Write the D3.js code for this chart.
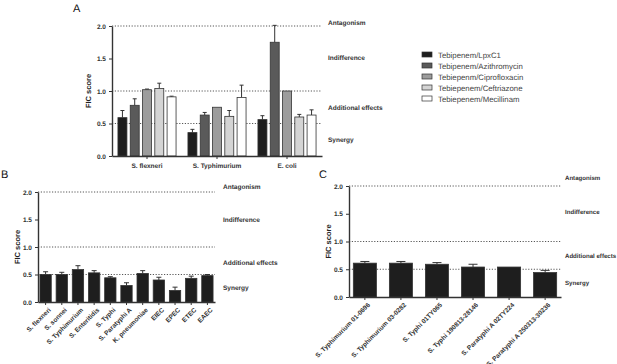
<!DOCTYPE html>
<html>
<head>
<meta charset="utf-8">
<script src="https://cdn.jsdelivr.net/npm/d3@7"></script>
<style>
  body { margin: 0; background: #fff; }
  svg { font-family: "Liberation Sans", Arial, sans-serif; -webkit-font-smoothing: antialiased; text-rendering: geometricPrecision; }
  .axis path, .axis line { stroke: #333; }
  .axis text { fill: #333; font-size: 6.5px; font-weight: bold; }
</style>
</head>
<body>
<svg id="chart"></svg>
<script>
// Panel A data
var groupsA = ["S. flexneri", "S. Typhimurium", "E. coli"];
var combosA = ["Tebipenem/LpxC1", "Tebipenem/Azithromycin", "Tebiepenm/Ciprofloxacin", "Tebiepenem/Ceftriazone", "Tebiepenem/Mecillinam"];
var lpxc1 = [0.59, 0.36, 0.56];
var lpxc1Err = [0.11, 0.05, 0.06];
var azithro = [0.78, 0.63, 1.75];
var azithroErr = [0.10, 0.04, 0.26];
var cipro = [1.02, 0.75, 1.00];
var ciproErr = [0.01, 0, 0];
var ceftri = [1.04, 0.61, 0.60];
var ceftriErr = [0.08, 0.09, 0.04];
var mecill = [0.91, 0.90, 0.63];
var mecillErr = [0.01, 0.19, 0.08];
var comboColors = ["#1e1e1e", "#5a5a5a", "#9c9c9c", "#d4d4d4", "#ffffff"];

// Panel B data
var strainsB = ["S. flexneri", "S. sonnei", "S. Typhimurium", "S. Enteritidis", "S. Typhi", "S. Paratyphi A", "K. pneumoniae", "EIEC", "EPEC", "ETEC", "EAEC"];
var valuesB = [0.50, 0.50, 0.59, 0.53, 0.44, 0.30, 0.52, 0.40, 0.21, 0.43, 0.48];
var errB = [0.05, 0.04, 0.07, 0.04, 0.02, 0.05, 0.05, 0.05, 0.06, 0.04, 0.02];

// Panel C data
var strainsC = ["S. Typhimurium 01-0696", "S. Typhimurium 03-0282", "S. Typhi 01TY065", "S. Typhi 190813-28146", "S. Paratyphi A 02TY224", "S. Paratyphi A 250313-30236"];
var valuesC = [0.61, 0.61, 0.59, 0.54, 0.54, 0.44];
var errC = [0.03, 0.03, 0.03, 0.05, 0, 0.04];

var yTicks = [0, 0.5, 1.0, 1.5, 2.0];
var dottedAt = [0.5, 1.0, 2.0];
var zones = ["Antagonism", "Indifference", "Additional effects", "Synergy"];

var svg = d3.select("#chart").attr("width", 617).attr("height", 364);

// draws axes, dotted guide lines, zone labels and the y title
function drawFrame(p) {
  var y = d3.scaleLinear().domain([0, 2]).range([p.bottom, p.top]);

  dottedAt.forEach(function (v) {
    svg.append("line")
      .attr("x1", p.left).attr("x2", p.right)
      .attr("y1", y(v)).attr("y2", y(v))
      .attr("stroke", "#444").attr("stroke-width", 0.9)
      .attr("stroke-dasharray", "1.2,1.6");
  });

  svg.append("g")
    .attr("class", "axis")
    .attr("transform", "translate(" + p.left + ",0)")
    .call(d3.axisLeft(y).tickValues(yTicks).tickFormat(d3.format(".1f")).tickSize(3).tickSizeOuter(0))
    .call(function (g) { g.select(".domain").attr("stroke-width", 1.4); });

  svg.append("text")
    .attr("transform", "translate(" + p.titleX + "," + ((p.top + p.bottom) / 2) + ") rotate(-90)")
    .attr("text-anchor", "middle")
    .attr("font-size", 7.5).attr("font-weight", "bold").attr("fill", "#222")
    .text("FIC  score");

  zones.forEach(function (z, i) {
    svg.append("text")
      .attr("x", p.labelX).attr("y", p.zoneY[i])
      .attr("font-size", p.zoneSize || 6.5).attr("font-weight", "bold").attr("fill", "#333")
      .text(z);
  });

  svg.append("text")
    .attr("x", p.letterX).attr("y", p.letterY)
    .attr("font-size", 11).attr("fill", "#111")
    .text(p.letter);

  return y;
}

function errorBars(xMid, yScale, val, err, capW) {
  if (err <= 0) return;
  var top = yScale(val + err);
  svg.append("line")
    .attr("x1", xMid).attr("x2", xMid)
    .attr("y1", yScale(val)).attr("y2", top)
    .attr("stroke", "#333").attr("stroke-width", 1);
  svg.append("line")
    .attr("x1", xMid - capW / 2).attr("x2", xMid + capW / 2)
    .attr("y1", top).attr("y2", top)
    .attr("stroke", "#333").attr("stroke-width", 1);
}

function rotatedLabels(g, size) {
  g.select(".domain").attr("stroke-width", 1.4);
  g.selectAll("text")
    .style("text-anchor", "end")
    .attr("font-size", size)
    .attr("dx", "-0.3em").attr("dy", "0.6em")
    .attr("transform", "rotate(-45)");
}

// ---------- Panel A ----------
var pA = { left: 112, right: 322, top: 26, bottom: 156, titleX: 91, labelX: 328,
  zoneY: [25, 60, 110, 142], letter: "A", letterX: 73, letterY: 12 };
var yA = drawFrame(pA);

var x0 = d3.scaleBand().domain(groupsA).range([pA.left, pA.right]).paddingInner(0.17).paddingOuter(0.085);
var x1 = d3.scaleBand().domain(combosA).range([0, x0.bandwidth()]).paddingInner(0.27);

var seriesA = [lpxc1, azithro, cipro, ceftri, mecill];
var errsA = [lpxc1Err, azithroErr, ciproErr, ceftriErr, mecillErr];

groupsA.forEach(function (g, gi) {
  combosA.forEach(function (c, ci) {
    var v = seriesA[ci][gi];
    var bx = x0(g) + x1(c);
    errorBars(bx + x1.bandwidth() / 2, yA, v, errsA[ci][gi], 4);
    svg.append("rect")
      .attr("x", bx).attr("y", yA(v))
      .attr("width", x1.bandwidth()).attr("height", yA(0) - yA(v))
      .attr("fill", comboColors[ci]).attr("stroke", "#333").attr("stroke-width", 0.8);
  });
});

svg.append("g")
  .attr("class", "axis")
  .attr("transform", "translate(0," + pA.bottom + ")")
  .call(d3.axisBottom(x0).tickSize(3).tickSizeOuter(0))
  .call(function (g) {
    g.select(".domain").attr("stroke-width", 1.4);
    g.selectAll("text").attr("font-size", 7.5).attr("dy", "0.9em");
  });

// legend
var legend = svg.append("g").attr("transform", "translate(422,55)");
combosA.forEach(function (c, i) {
  legend.append("rect")
    .attr("x", 0).attr("y", i * 11 - 3).attr("width", 10).attr("height", 5)
    .attr("fill", comboColors[i]).attr("stroke", "#333").attr("stroke-width", 0.7);
  legend.append("text")
    .attr("x", 16).attr("y", i * 11 + 2.5)
    .attr("font-size", 7.8).attr("fill", "#444")
    .text(c);
});

// ---------- Panel B ----------
var pB = { left: 38, right: 215, top: 192, bottom: 302, titleX: 20, labelX: 223,
  zoneY: [189, 222, 265, 290], letter: "B", letterX: 1, letterY: 178 };
var yB = drawFrame(pB);
var xB = d3.scaleBand().domain(strainsB).range([pB.left, pB.right]).paddingInner(0.3).paddingOuter(0.12);

strainsB.forEach(function (s, i) {
  var v = valuesB[i];
  errorBars(xB(s) + xB.bandwidth() / 2, yB, v, errB[i], 5);
  svg.append("rect")
    .attr("x", xB(s)).attr("y", yB(v))
    .attr("width", xB.bandwidth()).attr("height", yB(0) - yB(v))
    .attr("fill", "#1e1e1e").attr("stroke", "#333").attr("stroke-width", 0.8);
});

svg.append("g")
  .attr("class", "axis")
  .attr("transform", "translate(0," + pB.bottom + ")")
  .call(d3.axisBottom(xB).tickSize(3).tickSizeOuter(0))
  .call(function (g) { rotatedLabels(g, 6.3); });

// ---------- Panel C ----------
var pC = { left: 349, right: 561, top: 186, bottom: 297, titleX: 331, labelX: 565,
  zoneY: [180, 214, 258, 285], zoneSize: 6.1, letter: "C", letterX: 319, letterY: 178 };
var yC = drawFrame(pC);
var xC = d3.scaleBand().domain(strainsC).range([pC.left, pC.right]).paddingInner(0.36).paddingOuter(0.12);

strainsC.forEach(function (s, i) {
  var v = valuesC[i];
  errorBars(xC(s) + xC.bandwidth() / 2, yC, v, errC[i], 9);
  svg.append("rect")
    .attr("x", xC(s)).attr("y", yC(v))
    .attr("width", xC.bandwidth()).attr("height", yC(0) - yC(v))
    .attr("fill", "#1e1e1e").attr("stroke", "#333").attr("stroke-width", 0.8);
});

svg.append("g")
  .attr("class", "axis")
  .attr("transform", "translate(0," + pC.bottom + ")")
  .call(d3.axisBottom(xC).tickSize(3).tickSizeOuter(0))
  .call(function (g) { rotatedLabels(g, 5.7); });
</script>
</body>
</html>
